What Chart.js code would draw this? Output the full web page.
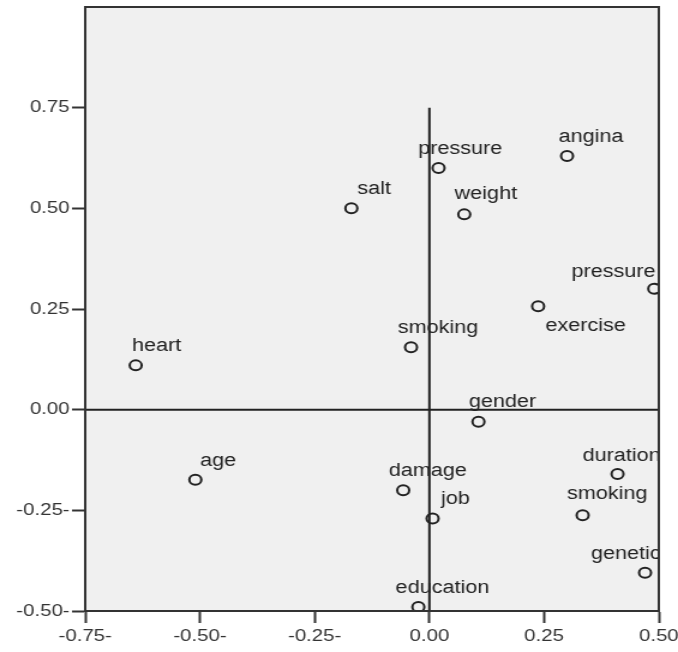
<!DOCTYPE html>
<html>
<head>
<meta charset="utf-8">
<script src="https://cdn.jsdelivr.net/npm/chart.js@4/dist/chart.umd.min.js"></script>
<style>
html, body { margin: 0; padding: 0; background: #fff; overflow: hidden; }
#wrap { width: 678px; height: 652px; overflow: hidden; }
/* the source picture is stretched sideways, so is the canvas */
#chart { transform: scaleX(1.2); transform-origin: 0 0; display: block; }
</style>
</head>
<body>
<div id="wrap"><canvas id="chart" width="567" height="652"></canvas></div>
<script>
const NAMES = ["pressure", "angina", "salt", "weight", "pressure", "exercise", "smoking", "heart",
               "gender", "age", "duration", "damage", "job", "smoking", "genetic", "education"];
const DIM1 = [0.02, 0.30, -0.17, 0.076, 0.49, 0.237, -0.04, -0.64,
              0.107, -0.51, 0.41, -0.057, 0.007, 0.334, 0.47, -0.024];
const DIM2 = [0.60, 0.63, 0.50, 0.485, 0.30, 0.257, 0.155, 0.11,
              -0.03, -0.174, -0.16, -0.20, -0.27, -0.262, -0.405, -0.49];

const X_TICKS = [-0.75, -0.50, -0.25, 0.00, 0.25, 0.50];
const X_TICK_LABELS = ["-0.75-", "-0.50-", "-0.25-", "0.00", "0.25", "0.50"];
const Y_TICKS = [-0.50, -0.25, 0.00, 0.25, 0.50, 0.75];
const Y_TICK_LABELS = ["-0.50-", "-0.25-", "0.00", "0.25", "0.50", "0.75"];

// where each name sits next to its circle (canvas px, before the stretch)
const LABEL_DX = [-17, -7, 5, -8, -69, 6, -11, -3, -8, 4, -29, -12, 7, -13, -45, -19];
const LABEL_DY = [-14, -14, -14, -15, -12, 25, -14, -14, -15, -14, -13, -14, -14, -16, -14, -14];

const INK = "#222";
const FONT = "'Liberation Sans', Arial, sans-serif";

const frame = {
    id: "frame",
    beforeDraw(chart) {
        let a = chart.chartArea;
        let ctx = chart.ctx;
        ctx.save();
        ctx.fillStyle = "#f0f0f0";
        ctx.fillRect(a.left, a.top, a.right - a.left, a.bottom - a.top);
        ctx.restore();
    },
    beforeDatasetsDraw(chart) {
        // names of the points
        let a = chart.chartArea;
        let ctx = chart.ctx;
        let pts = chart.getDatasetMeta(2).data;
        ctx.save();
        ctx.beginPath();
        ctx.rect(a.left, a.top, a.right - a.left, a.bottom - a.top);
        ctx.clip();
        ctx.font = "18px " + FONT;
        ctx.fillStyle = INK;
        ctx.textBaseline = "alphabetic";
        ctx.textAlign = "left";
        pts.forEach((p, i) => {
            ctx.fillText(NAMES[i], p.x + LABEL_DX[i], p.y + LABEL_DY[i]);
        });
        ctx.restore();
    },
    afterDraw(chart) {
        let a = chart.chartArea;
        let ctx = chart.ctx;
        ctx.save();
        ctx.strokeStyle = "#333";
        ctx.lineWidth = 2;
        ctx.strokeRect(a.left, a.top, a.right - a.left, a.bottom - a.top);
        ctx.restore();
    }
};

let points = NAMES.map((n, i) => ({ x: DIM1[i], y: DIM2[i] }));

new Chart(document.getElementById("chart"), {
    type: "scatter",
    data: {
        datasets: [
            {
                data: [{ x: X_TICKS[0], y: 0 }, { x: X_TICKS[X_TICKS.length - 1], y: 0 }],
                showLine: true,
                borderColor: INK,
                borderWidth: 2,
                pointRadius: 0,
            },
            {
                data: [{ x: 0, y: Y_TICKS[0] }, { x: 0, y: Y_TICKS[Y_TICKS.length - 1] }],
                showLine: true,
                borderColor: INK,
                borderWidth: 2,
                pointRadius: 0,
            },
            {
                data: points,
                pointRadius: 5,
                pointBorderWidth: 2,
                pointBorderColor: INK,
                pointBackgroundColor: "rgba(0,0,0,0)",
            },
        ]
    },
    options: {
        responsive: false,
        animation: false,
        events: [],
        layout: { padding: { top: 5, right: 18, left: 0, bottom: 0 } },
        plugins: {
            legend: { display: false },
            tooltip: { enabled: false },
        },
        scales: {
            x: {
                min: -0.75,
                max: 0.5,
                afterBuildTicks(scale) {
                    scale.ticks = X_TICKS.map(v => ({ value: v }));
                },
                afterFit(scale) {
                    scale.height = 41;
                    scale.paddingRight = 0;
                    scale.paddingLeft = 0;
                },
                ticks: {
                    autoSkip: false,
                    maxRotation: 0,
                    padding: 3,
                    color: "#333",
                    font: { family: FONT, size: 17 },
                    callback: (v, i) => X_TICK_LABELS[i],
                },
                grid: {
                    drawOnChartArea: false,
                    tickLength: 12,
                    tickWidth: 2,
                    tickColor: "#333",
                },
                border: { color: "#333", width: 2 },
            },
            y: {
                min: -0.5,
                max: 1.0,
                afterBuildTicks(scale) {
                    scale.ticks = Y_TICKS.map(v => ({ value: v }));
                },
                afterFit(scale) {
                    scale.width = 71;
                    scale.paddingTop = 0;
                    scale.paddingBottom = 0;
                },
                ticks: {
                    autoSkip: false,
                    padding: 2,
                    color: "#333",
                    font: { family: FONT, size: 17 },
                    callback: (v, i) => Y_TICK_LABELS[i],
                },
                grid: {
                    drawOnChartArea: false,
                    tickLength: 11,
                    tickWidth: 2,
                    tickColor: "#333",
                },
                border: { color: "#333", width: 2 },
            }
        }
    },
    plugins: [frame]
});
</script>
</body>
</html>
